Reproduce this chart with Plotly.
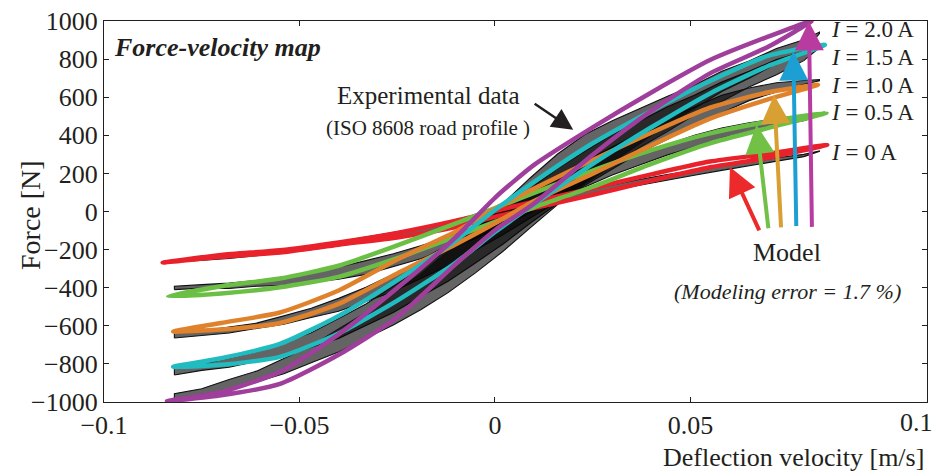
import plotly.graph_objects as go

# ---------------- data ----------------
CURRENT_LABELS = ["0", "0.5", "1.0", "1.5", "2.0"]
MODEL_COLORS = ["#e9212b", "#6cbf45", "#e0822b", "#20bcbf", "#a03e9b"]
ARROW_COLORS = ["#ec2a2c", "#72c046", "#d8a033", "#1d9fd3", "#b83c9f"]

# model (simulation) loops: end points and upper / lower branches on a shared velocity grid
MODEL_V = [-0.07, -0.055, -0.04, -0.025, -0.01, 0.0, 0.01, 0.025, 0.04, 0.055, 0.07]
V_MIN = [-0.085, -0.0836, -0.0823, -0.0823, -0.0839]
F_MIN = [-268, -445, -630, -815, -995]
V_MAX = [0.085, 0.0848, 0.0826, 0.0844, 0.081]
F_MAX = [350, 518, 665, 875, 1000]

MODEL_UPPER_0A = [-228, -203, -162, -112, -48, 2, 52, 122, 195, 262, 303]
MODEL_LOWER_0A = [-238, -215, -174, -136, -82, -28, 18, 88, 162, 232, 282]
MODEL_UPPER_05A = [-392, -352, -285, -178, -62, 18, 98, 215, 322, 410, 472]
MODEL_LOWER_05A = [-430, -398, -343, -245, -132, -55, 22, 130, 250, 358, 439]
MODEL_UPPER_10A = [-585, -530, -415, -252, -105, 15, 120, 270, 413, 545, 626]
MODEL_LOWER_10A = [-620, -585, -485, -325, -172, -62, 55, 198, 348, 488, 590]
MODEL_UPPER_15A = [-770, -695, -548, -360, -152, 8, 155, 358, 528, 685, 818]
MODEL_LOWER_15A = [-805, -763, -640, -468, -268, -108, 38, 250, 442, 620, 765]
MODEL_UPPER_20A = [-948, -842, -645, -402, -135, 72, 245, 442, 625, 795, 919]
MODEL_LOWER_20A = [-965, -905, -752, -555, -275, -98, 42, 298, 528, 725, 866]

# measured loops (ISO 8608 road profile excitation)
EXP_V = [-0.082, -0.075, -0.068, -0.061, -0.054, -0.047, -0.040, -0.033, -0.026,
         -0.019, -0.012, -0.005, 0.002, 0.009, 0.016, 0.023, 0.030, 0.037, 0.044,
         0.051, 0.058, 0.065, 0.072, 0.079, 0.083]

EXP_UPPER_0A = [-254, -246, -232, -219, -200, -182, -160, -136, -110, -86, -56, -22, 12,
                44, 78, 110, 140, 168, 194, 216, 240, 259, 282, 300, 318]
EXP_LOWER_0A = [-266, -257, -246, -232, -216, -200, -180, -160, -136, -114, -86, -55, -18,
                15, 50, 80, 112, 138, 166, 190, 216, 240, 264, 288, 316]
EXP_UPPER_05A = [-392, -384, -376, -362, -344, -320, -292, -258, -222, -180, -134, -80, -22,
                 50, 116, 186, 246, 302, 350, 400, 438, 466, 488, 506, 512]
EXP_LOWER_05A = [-410, -402, -404, -392, -388, -372, -356, -330, -290, -248, -194, -142, -74,
                 -8, 66, 130, 192, 244, 296, 340, 386, 420, 452, 476, 502]
EXP_UPPER_10A = [-636, -626, -606, -586, -548, -508, -456, -398, -330, -256, -174, -94, -2,
                 86, 180, 262, 340, 414, 486, 548, 610, 648, 676, 688, 692]
EXP_LOWER_10A = [-664, -650, -638, -614, -592, -556, -524, -472, -420, -352, -284, -204, -122,
                 -34, 52, 140, 222, 308, 378, 456, 518, 582, 628, 668, 686]
EXP_UPPER_15A = [-824, -802, -770, -736, -688, -636, -562, -486, -392, -300, -196, -96, 18,
                 120, 226, 318, 404, 474, 548, 610, 680, 736, 798, 840, 870]
EXP_LOWER_15A = [-858, -834, -818, -786, -758, -712, -666, -598, -530, -446, -366, -270, -172,
                 -62, 40, 146, 240, 336, 418, 506, 578, 654, 718, 792, 860]
EXP_UPPER_20A = [-956, -930, -882, -838, -772, -706, -616, -530, -426, -328, -208, -92, 44,
                 176, 302, 404, 476, 540, 604, 664, 736, 790, 856, 902, 942]
EXP_LOWER_20A = [-990, -960, -938, -894, -852, -794, -738, -666, -596, -516, -426, -322, -210,
                 -86, 36, 146, 258, 356, 458, 540, 630, 700, 776, 838, 934]

# arrow tips (velocity, force) pointing from the "Model" note to each curve
ARROW_TIP_V = [0.0601, 0.0669, 0.0714, 0.0763, 0.0803]
ARROW_TIP_F = [234, 455, 612, 840, 998]

X_TICKS = [-0.1, -0.05, 0, 0.05]
X_TICK_TEXT = ["\u22120.1", "\u22120.05", "0", "0.05"]
Y_TICKS = [-1000, -800, -600, -400, -200, 0, 200, 400, 600, 800, 1000]
Y_TICK_TEXT = ["\u22121000", "\u2212800", "\u2212600", "\u2212400", "\u2212200",
               "0", "200", "400", "600", "800", "1000"]

MODEL_UPPER = [MODEL_UPPER_0A, MODEL_UPPER_05A, MODEL_UPPER_10A, MODEL_UPPER_15A, MODEL_UPPER_20A]
MODEL_LOWER = [MODEL_LOWER_0A, MODEL_LOWER_05A, MODEL_LOWER_10A, MODEL_LOWER_15A, MODEL_LOWER_20A]
EXP_UPPER = [EXP_UPPER_0A, EXP_UPPER_05A, EXP_UPPER_10A, EXP_UPPER_15A, EXP_UPPER_20A]
EXP_LOWER = [EXP_LOWER_0A, EXP_LOWER_05A, EXP_LOWER_10A, EXP_LOWER_15A, EXP_LOWER_20A]

SERIF = "Liberation Serif, Times New Roman, serif"
INK = "#231f20"

fig = go.Figure()

# measured hysteresis loops (thin black outline, dark shading for the dense cycles)
for i in range(len(CURRENT_LABELS)):
    xs = EXP_V + EXP_V[::-1] + [EXP_V[0]]
    ys = EXP_LOWER[i] + EXP_UPPER[i][::-1] + [EXP_LOWER[i][0]]
    fig.add_trace(go.Scatter(
        x=xs, y=ys, mode="lines", fill="toself",
        fillcolor="rgba(5,5,5,0.62)",
        line=dict(color="#111111", width=1.1),
        hoverinfo="skip", showlegend=False))

# model hysteresis loops
for i in range(len(CURRENT_LABELS)):
    xs = [V_MIN[i]] + MODEL_V + [V_MAX[i]] + MODEL_V[::-1] + [V_MIN[i]]
    ys = [F_MIN[i]] + MODEL_LOWER[i] + [F_MAX[i]] + MODEL_UPPER[i][::-1] + [F_MIN[i]]
    fig.add_trace(go.Scatter(
        x=xs, y=ys, mode="lines",
        line=dict(color=MODEL_COLORS[i], width=4.5, shape="spline", smoothing=0.6),
        name=f"I = {CURRENT_LABELS[i]} A", showlegend=False))

ann = []
# title inside the frame
ann.append(dict(text="<b><i>Force-velocity map</i></b>", xref="paper", yref="paper",
                x=0.01, y=0.975, xanchor="left", yanchor="top", showarrow=False,
                font=dict(family=SERIF, size=26, color=INK)))
# experimental data note with arrow
ann.append(dict(text="Experimental data", xref="paper", yref="paper",
                x=(428 - 104) / 823, y=(402 - 95) / 381, xanchor="center", yanchor="middle",
                showarrow=False, font=dict(family=SERIF, size=25, color=INK)))
ann.append(dict(text="(ISO 8608 road profile )", xref="paper", yref="paper",
                x=(428 - 104) / 823, y=(402 - 128) / 381, xanchor="center", yanchor="middle",
                showarrow=False, font=dict(family=SERIF, size=21, color=INK)))
ann.append(dict(x=0.0200, y=429, xref="x", yref="y", text="", showarrow=True,
                ax=-40, ay=-27, arrowhead=2, arrowsize=1.7, arrowwidth=2.5,
                arrowcolor=INK))
# model note and coloured arrows
ann.append(dict(text="Model", xref="paper", yref="paper",
                x=(787 - 104) / 823, y=(402 - 252) / 381, xanchor="center", yanchor="middle",
                showarrow=False, font=dict(family=SERIF, size=26, color=INK)))
ann.append(dict(text="<i>(Modeling error = 1.7 %)</i>", xref="paper", yref="paper",
                x=(787 - 104) / 823, y=(402 - 291) / 381, xanchor="center", yanchor="middle",
                showarrow=False, font=dict(family=SERIF, size=22, color=INK)))
ARROW_TAIL_DX = [30, 12, 7, 3, 3]
ARROW_TAIL_DY = [65, 105, 134, 176, 207]
for i in range(len(CURRENT_LABELS)):
    ann.append(dict(x=ARROW_TIP_V[i], y=ARROW_TIP_F[i], xref="x", yref="y", text="",
                    showarrow=True, ax=ARROW_TAIL_DX[i], ay=ARROW_TAIL_DY[i],
                    arrowhead=2, arrowsize=1.45, arrowwidth=4,
                    arrowcolor=ARROW_COLORS[i]))
# current labels
LABEL_Y_PX = [152, 112, 85, 57, 30]
for i in range(len(CURRENT_LABELS)):
    ann.append(dict(text=f"<i>I</i> = {CURRENT_LABELS[i]} A", xref="paper", yref="paper",
                    x=(829 - 104) / 823, y=(402 - LABEL_Y_PX[i]) / 381,
                    xanchor="left", yanchor="middle", showarrow=False,
                    font=dict(family=SERIF, size=23, color=INK)))
# axis titles
ann.append(dict(text="Force [N]", xref="paper", yref="paper", x=(30 - 104) / 823,
                y=(402 - 215) / 381, textangle=-90, xanchor="center", yanchor="middle",
                showarrow=False, font=dict(family=SERIF, size=28, color=INK)))
ann.append(dict(text="Deflection velocity [m/s]", xref="paper", yref="paper",
                x=(926 - 104) / 823, y=(402 - 458) / 381, xanchor="right", yanchor="middle",
                showarrow=False, font=dict(family=SERIF, size=26, color=INK)))
# last x tick label sits at the right edge of the frame
ann.append(dict(text="0.1", xref="paper", yref="paper", x=(916 - 104) / 823,
                y=(402 - 423) / 381, xanchor="center", yanchor="middle",
                showarrow=False, font=dict(family=SERIF, size=26, color=INK)))

axis_common = dict(showgrid=False, zeroline=False, showline=True, linecolor=INK,
                   linewidth=1.2, mirror="ticks", ticks="inside", ticklen=5,
                   tickwidth=1, tickcolor=INK,
                   tickfont=dict(family=SERIF, size=26, color=INK))

fig.update_layout(
    width=934, height=475,
    margin=dict(l=104, r=7, t=21, b=73),
    paper_bgcolor="white", plot_bgcolor="white",
    xaxis=dict(range=[-0.1, 0.1105], tickvals=X_TICKS, ticktext=X_TICK_TEXT, **axis_common),
    yaxis=dict(range=[-1000, 1000], tickvals=Y_TICKS, ticktext=Y_TICK_TEXT, **axis_common),
    annotations=ann,
    showlegend=False,
)

fig.write_html("out.html")
